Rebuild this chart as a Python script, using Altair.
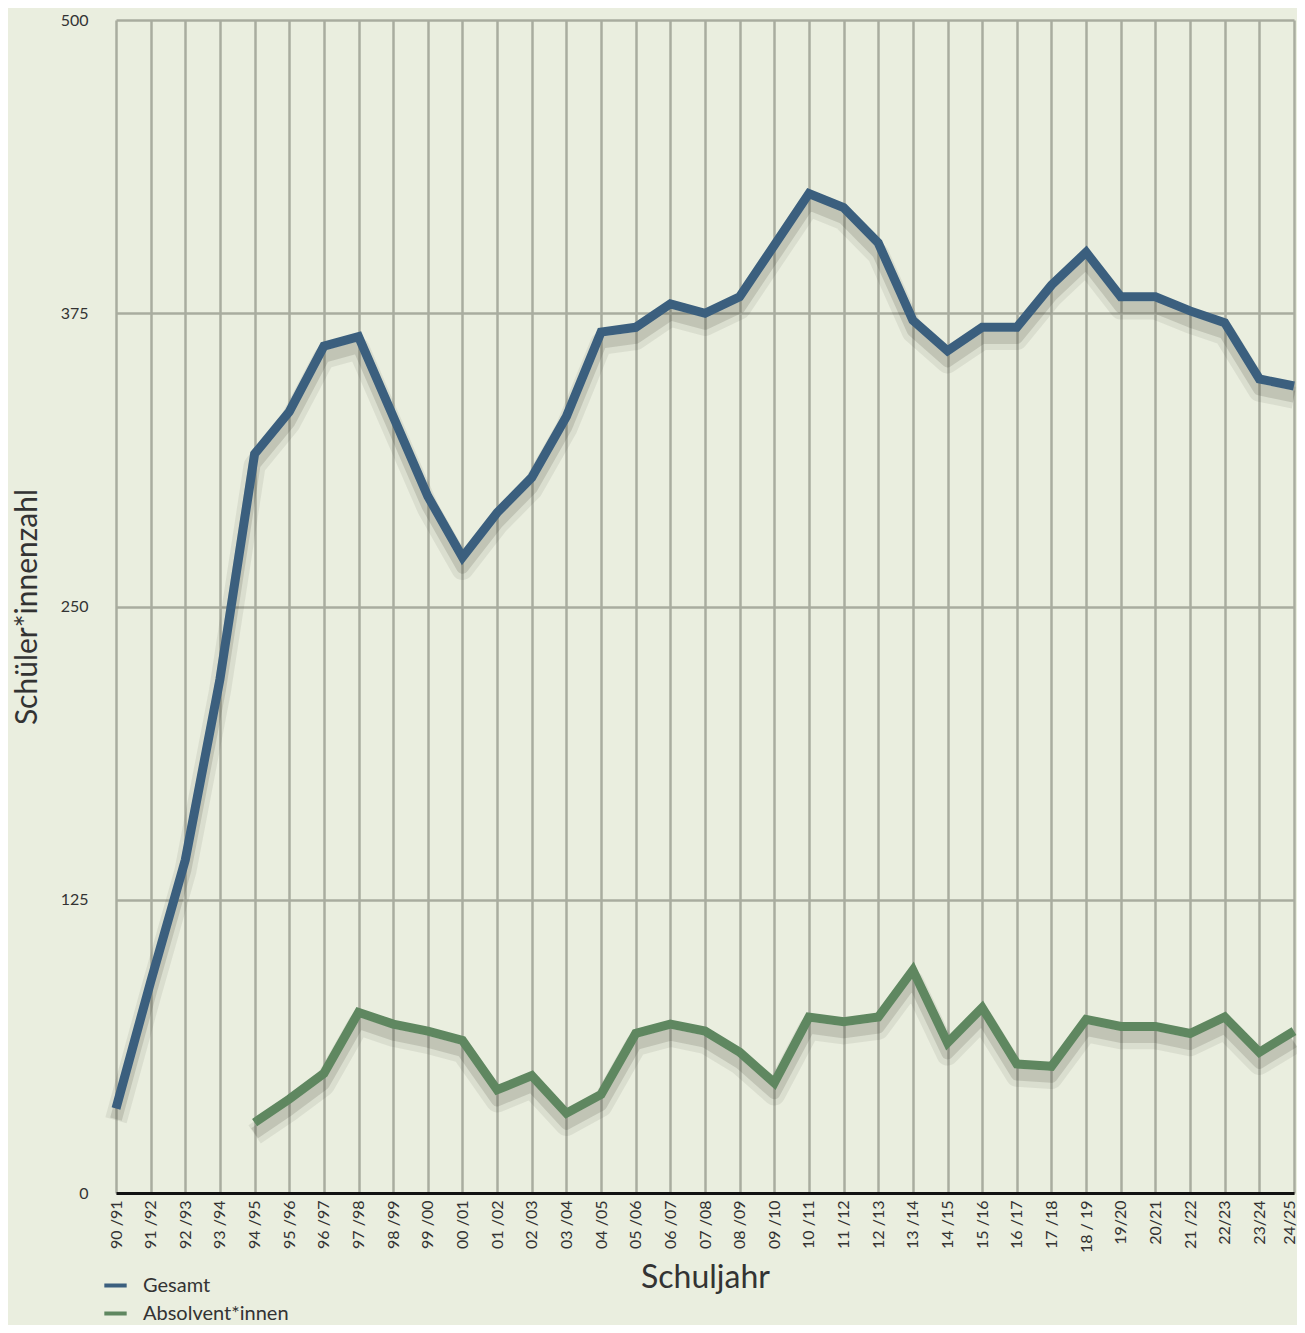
import altair as alt
import pandas as pd

years = ["90 /91", "91 /92", "92 /93", "93 /94", "94 /95", "95 /96", "96 /97", "97 /98",
         "98 /99", "99 /00", "00 /01", "01 /02", "02 /03", "03 /04", "04 /05", "05 /06",
         "06 /07", "07 /08", "08 /09", "09 /10", "10 /11", "11 /12", "12 /13", "13 /14",
         "14 /15", "15 /16", "16 /17", "17 /18", "18 / 19", "19/20", "20/21", "21 /22",
         "22/23", "23/24", "24/25"]

gesamt = [36, 90, 142, 219, 315, 333, 361, 365, 331, 297, 271, 290, 305, 331, 367, 369,
          379, 375, 382, 404, 426, 420, 405, 372, 359, 369, 369, 387, 401, 382, 382, 376,
          371, 347, 344]

absolvent = [None, None, None, None, 30, 40, 51, 77, 72, 69, 65, 44, 50, 34, 42, 68,
             72, 69, 60, 47, 75, 73, 75, 95, 64, 79, 55, 54, 74, 71, 71, 68,
             75, 60, 69]

series_names = ["Gesamt", "Absolvent*innen"]
series_colors = ["#3b5f7e", "#5f8760"]
y_ticks = [0, 125, 250, 375, 500]

rows = []
for name, vals in zip(series_names, [gesamt, absolvent]):
    for i, (yr, v) in enumerate(zip(years, vals)):
        if v is not None:
            rows.append({"Schuljahr": yr, "Wert": v, "Serie": name, "order": i})
df = pd.DataFrame(rows)

FONT = "Lato"
TEXT = "#333333"
GRID = "#a9ac9f"

last_label = years[-1]

x_enc = alt.X("Schuljahr:N", sort=years,
              scale=alt.Scale(type="point", padding=0),
              axis=alt.Axis(title="Schuljahr", labelAngle=270, labelFontSize=16,
                            labelColor=TEXT, labelFont=FONT, labelPadding=7,
                            labelAlign="right", labelBaseline="middle",
                            labelOffset={"condition": {"test": f"datum.label == '{last_label}'",
                                                       "value": -5},
                                         "value": 0},
                            ticks=False, domainColor="#111111", domainWidth=3,
                            grid=True, gridColor=GRID, gridWidth=2.5,
                            titleFontSize=32, titleFont=FONT, titleFontWeight="normal",
                            titleColor=TEXT, titlePadding=10))

y_axis = alt.Axis(title="Schüler*innenzahl", values=y_ticks, labelFontSize=16,
                  labelColor=TEXT, labelFont=FONT, labelPadding=28, ticks=False,
                  domain=False, grid=True, gridColor=GRID, gridWidth=2.5,
                  titleFontSize=30, titleFont=FONT, titleFontWeight="normal",
                  titleColor=TEXT, titlePadding=18)

y_scale = alt.Scale(domain=[0, 500], nice=False, zero=True)

base = alt.Chart(df)

shadow1 = base.transform_calculate(sy="datum.Wert - 5").mark_line(
    color="#3d3f33", opacity=0.09, strokeWidth=22, strokeJoin="round"
).encode(
    x=x_enc,
    y=alt.Y("sy:Q", scale=y_scale, axis=y_axis),
    detail="Serie:N",
    order="order:Q",
)

shadow2 = base.transform_calculate(sy="datum.Wert - 4.5").mark_line(
    color="#3d3f33", opacity=0.16, strokeWidth=12, strokeJoin="round"
).encode(
    x=x_enc,
    y=alt.Y("sy:Q", scale=y_scale, axis=y_axis),
    detail="Serie:N",
    order="order:Q",
)

main = base.mark_line(strokeWidth=9, strokeJoin="miter", strokeCap="butt").encode(
    x=x_enc,
    y=alt.Y("Wert:Q", scale=y_scale, axis=y_axis),
    color=alt.Color("Serie:N",
                    scale=alt.Scale(domain=series_names, range=series_colors),
                    legend=alt.Legend(title=None, orient="none", legendX=-14,
                                      legendY=1252, symbolType="stroke",
                                      symbolStrokeWidth=4, symbolSize=500,
                                      labelFontSize=20, labelFont=FONT,
                                      labelColor=TEXT, rowPadding=4,
                                      labelOffset=14)),
    order="order:Q",
)

chart = alt.layer(shadow1, shadow2, main).properties(
    width=1178,
    height=1173,
    background="#eaeedf",
    padding={"left": 108, "top": 12, "right": 3, "bottom": 132},
    autosize=alt.AutoSizeParams(type="none"),
).configure_view(stroke=None)

chart.save("out.html", embed_options={"renderer": "svg", "actions": False})
